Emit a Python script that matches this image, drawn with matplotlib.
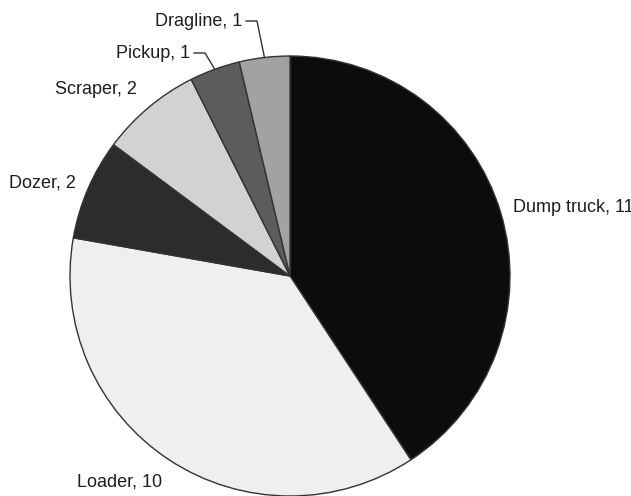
import matplotlib.pyplot as plt
import numpy as np

labels = ['Dump truck', 'Loader', 'Dozer', 'Scraper', 'Pickup', 'Dragline']
counts = [11, 10, 2, 2, 1, 1]
colors = ['#0c0c0c', '#efefef', '#2c2c2c', '#d2d2d2', '#5c5c5c', '#a2a2a2']

plt.rcParams['font.family'] = ['Liberation Sans', 'DejaVu Sans']

fig = plt.figure(figsize=(6.31, 4.96), dpi=100)
ax = fig.add_axes([0, 0, 1, 1])

H = 496
cx, cy, r = 290, H - 276, 220
wedges, _ = ax.pie(counts, colors=colors, startangle=90, counterclock=False,
                   center=(cx, cy), radius=r, frame=True,
                   wedgeprops=dict(edgecolor='#333333', linewidth=1.0))
ax.set_xlim(0, 631)
ax.set_ylim(0, H)
ax.set_aspect('equal')
ax.axis('off')

# label placement (pixel positions, y measured from top)
label_pos = {
    'Dump truck': (513, 207, 'left'),
    'Loader': (77, 482, 'left'),
    'Dozer': (9, 183, 'left'),
    'Scraper': (55, 90, 'left'),
    'Pickup': (190, 53, 'right'),
    'Dragline': (242, 21, 'right'),
}
for w, lab, n in zip(wedges, labels, counts):
    x, y, ha = label_pos[lab]
    ax.text(x, H - y, f'{lab}, {n}', ha=ha, va='center', fontsize=13, color='#1e1e1e')
    if lab in ('Pickup', 'Dragline'):
        th = np.deg2rad((w.theta1 + w.theta2) / 2)
        ex, ey = cx + r * np.cos(th), cy + r * np.sin(th)
        ax.plot([x + 4, x + 15, ex], [H - y, H - y, ey], color='#333333', lw=1.0)

fig.savefig('out.png', dpi=100, facecolor='white')
